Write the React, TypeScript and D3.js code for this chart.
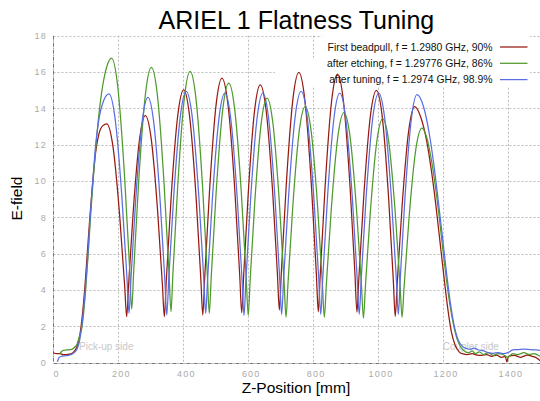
import React, { useEffect, useRef } from 'react';
import * as d3 from 'd3';

// measured bead-pull curves, [z in mm, E-field]
const firstBeadpull: [number, number][] = [
  [0, 0.55], [10, 0.5], [20, 0.5], [30, 0.44], [40, 0.45], [50, 0.47], [60, 0.55], [70, 0.8], [78, 1.2], [85, 2], [96, 4], [104, 6], [112, 8], [121, 10], [130, 11.6], [140, 12.6], [152, 13.05], [164, 13.15],
  [182.5, 11.99], [204, 8.07], [219.4, 4.19], [225.5, 2.53],
  [231.3, 4.26], [245.6, 8.31], [265.8, 12.39], [283, 13.6],
  [300.6, 12.39], [321, 8.31], [335.7, 4.26], [341.5, 2.53],
  [347.5, 4.48], [362.3, 9.05], [383.2, 13.66], [401, 15.02],
  [418.7, 13.67], [439.4, 9.1], [454.1, 4.56], [460, 2.63],
  [465.9, 4.66], [480.7, 9.44], [501.3, 14.25], [519, 15.67],
  [537.3, 14.26], [558.7, 9.49], [573.9, 4.77], [580, 2.75],
  [585.7, 4.71], [600, 9.3], [619.9, 13.93], [637, 15.3],
  [654.7, 13.95], [675.4, 9.37], [690.1, 4.83], [696, 2.9],
  [702, 4.94], [717, 9.73], [738, 14.55], [756, 15.98],
  [774, 14.54], [795, 9.68], [810, 4.86], [816, 2.8],
  [821.9, 4.84], [836.7, 9.63], [857.3, 14.46], [875, 15.89],
  [893, 14.46], [914, 9.62], [929, 4.83], [935, 2.78],
  [941, 4.68], [956, 9.15], [977, 13.66], [995, 14.99],
  [1012.4, 13.63], [1032.7, 9.04], [1047.2, 4.49], [1053, 2.55],
  [1059, 4.35], [1074, 8.58], [1095, 12.84], [1113, 14.1],
  [1132, 13.5], [1150, 12.2], [1165, 10.5], [1178, 8.7], [1190, 6.8], [1202, 4.9], [1214, 3.1], [1226, 1.7], [1238, 0.95], [1250, 0.6], [1262, 0.48],
  [1275, 0.45], [1290, 0.5], [1305, 0.42], [1320, 0.4], [1335, 0.45], [1350, 0.35], [1365, 0.42], [1380, 0.3], [1392, 0.35], [1397, 0.05], [1402, 0.35], [1420, 0.4], [1440, 0.3], [1460, 0.42], [1475, 0.35], [1490, 0.25], [1500, 0.1],
];

const afterEtching: [number, number][] = [
  [20, 0.5], [25, 0.62], [30, 0.68], [40, 0.7], [50, 0.72], [58, 0.75], [65, 0.85], [72, 1.0], [79, 1.4], [88, 2], [99, 4], [107, 6], [114, 8], [122, 10], [131, 12], [142, 14], [155, 15.6], [166, 16.4], [179, 16.77],
  [197.6, 15.26], [219.3, 10.16], [234.8, 5.11], [241, 2.95],
  [247.1, 5.02], [262.2, 9.89], [283.4, 14.8], [301.5, 16.25],
  [319.7, 14.79], [340.8, 9.83], [356, 4.91], [362, 2.81],
  [367.9, 4.87], [382.7, 9.71], [403.3, 14.59], [421, 16.03],
  [438.7, 14.58], [459.4, 9.67], [474.1, 4.8], [480, 2.72],
  [486, 4.7], [501, 9.33], [522, 14.01], [540, 15.39],
  [558, 14.0], [579, 9.29], [594, 4.61], [600, 2.62],
  [605.8, 4.48], [620.3, 8.86], [640.6, 13.27], [658, 14.57],
  [675.6, 13.25], [696, 8.8], [710.7, 4.38], [716.5, 2.5],
  [722.4, 4.31], [737.2, 8.56], [757.8, 12.84], [775.5, 14.1],
  [793.2, 12.84], [813.9, 8.56], [828.6, 4.31], [834.5, 2.5],
  [840.6, 4.26], [855.7, 8.38], [876.9, 12.54], [895, 13.77],
  [913, 12.54], [934, 8.36], [949, 4.22], [955, 2.45],
  [961, 4.16], [975.8, 8.18], [996.7, 12.23], [1014.5, 13.43],
  [1032.4, 12.24], [1053.2, 8.21], [1068.1, 4.21], [1074, 2.5],
  [1080.1, 4.12], [1095.4, 7.93], [1116.7, 11.78], [1135, 12.91],
  [1150, 12.4], [1163, 11.3], [1176, 9.8], [1188, 8.1], [1200, 6.2], [1212, 4.4], [1224, 2.9], [1236, 1.8], [1249, 1.05], [1262, 0.7], [1280, 0.55],
  [1290, 0.65], [1300, 0.5], [1312, 0.6], [1325, 0.45], [1340, 0.55], [1355, 0.4], [1370, 0.5], [1385, 0.45], [1400, 0.3], [1415, 0.5], [1430, 0.45], [1450, 0.55], [1465, 0.45], [1480, 0.5], [1500, 0.35],
];

const afterTuning: [number, number][] = [
  [12, 0.05], [18, 0.3], [25, 0.35], [35, 0.38], [45, 0.4], [55, 0.45], [63, 0.55], [71, 0.7], [79, 1.1], [87, 2], [98, 4], [106, 6], [113, 8], [121, 10], [130, 12], [140, 13.4], [155, 14.45], [171, 14.8],
  [189.5, 13.48], [211.1, 9.03], [226.5, 4.6], [232.7, 2.72],
  [238.5, 4.57], [253.1, 8.92], [273.5, 13.31], [291, 14.6],
  [308.4, 13.3], [328.7, 8.88], [343.2, 4.5], [349, 2.63],
  [355, 4.55], [370, 9.05], [391, 13.59], [409, 14.93],
  [427, 13.6], [448, 9.09], [463, 4.62], [469, 2.72],
  [474.9, 4.61], [489.7, 9.05], [510.3, 13.52], [528, 14.84],
  [545.7, 13.51], [566.4, 8.99], [581.1, 4.51], [587, 2.6],
  [592.8, 4.51], [607.3, 8.99], [627.6, 13.51], [645, 14.84],
  [662.4, 13.51], [682.7, 9.01], [697.2, 4.55], [703, 2.65],
  [709, 4.57], [724, 9.06], [745, 13.59], [763, 14.93],
  [781.2, 13.59], [802.3, 9.06], [817.5, 4.57], [823.5, 2.66],
  [829.4, 4.56], [844, 9.02], [864.5, 13.51], [882, 14.84],
  [900, 13.51], [921, 9.02], [936, 4.56], [942, 2.66],
  [948, 4.56], [963, 9.02], [984, 13.51], [1002, 14.84],
  [1020.2, 13.51], [1041.3, 9.02], [1056.5, 4.56], [1062.5, 2.66],
  [1068.3, 4.55], [1082.6, 8.97], [1102.8, 13.43], [1120, 14.75],
  [1140, 14.1], [1157, 12.7], [1172, 10.9], [1185, 9.0], [1198, 7.0], [1210, 5.1], [1222, 3.4], [1234, 2.1], [1247, 1.25], [1260, 0.9], [1272, 0.78], [1283, 0.74],
  [1295, 0.8], [1310, 0.7], [1325, 0.65], [1340, 0.55], [1355, 0.52], [1370, 0.55], [1385, 0.5], [1400, 0.55], [1415, 0.7], [1430, 0.72], [1450, 0.75], [1470, 0.72], [1485, 0.7], [1500, 0.68],
];

const seriesLabels = [
  'First beadpull, f = 1.2980 GHz, 90%',
  'after etching, f = 1.29776 GHz, 86%',
  'after tuning, f = 1.2974 GHz, 98.9%',
];
const seriesColors = ['#961a10', '#4f9a2c', '#5a6ee2'];

const xTicks = [0, 200, 400, 600, 800, 1000, 1200, 1400];
const yTicks = [0, 2, 4, 6, 8, 10, 12, 14, 16, 18];

const W = 540;
const H = 401;
const FONT = '"Liberation Sans", Arial, Helvetica, sans-serif';

export default function App() {
  const ref = useRef<SVGSVGElement>(null);

  useEffect(() => {
    const svg = d3.select(ref.current);
    svg.selectAll('*').remove();

    const x = d3.scaleLinear().domain([0, 1500]).range([53.5, 540.3]);
    const y = d3.scaleLinear().domain([0, 18]).range([362.7, 35.7]);

    svg.append('rect').attr('width', W).attr('height', H).attr('fill', '#fff');

    // grid
    const grid = svg.append('g').attr('stroke', '#bbb').attr('stroke-width', 1).attr('stroke-dasharray', '2,2');
    grid.selectAll('.hg').data(yTicks.filter(d => d > 0)).enter().append('line')
      .attr('x1', x(0)).attr('x2', W)
      .attr('y1', d => Math.round(y(d)) + 0.5).attr('y2', d => Math.round(y(d)) + 0.5);
    grid.selectAll('.vg').data(xTicks.filter(d => d > 0)).enter().append('line')
      .attr('x1', d => Math.round(x(d)) + 0.5).attr('x2', d => Math.round(x(d)) + 0.5)
      .attr('y1', y(18)).attr('y2', y(0));

    // legend background hides the grid
    svg.append('rect').attr('x', 322).attr('y', 33).attr('width', 208).attr('height', 54).attr('fill', '#fff');
    svg.append('rect').attr('x', 275).attr('y', 60).attr('width', 255).attr('height', 27).attr('fill', '#fff');

    // axes
    const axes = svg.append('g').attr('stroke', '#777').attr('stroke-width', 1).attr('stroke-dasharray', '4,1,1,1');
    axes.append('line').attr('x1', 53.5).attr('x2', 53.5).attr('y1', y(18)).attr('y2', y(0));
    axes.append('line').attr('x1', 53.5).attr('x2', W).attr('y1', Math.round(y(0)) + 0.5).attr('y2', Math.round(y(0)) + 0.5);

    const tickText = { fill: '#aaa', size: 9 };
    svg.append('g').selectAll('text').data(yTicks).enter().append('text')
      .attr('x', 47).attr('y', d => y(d) + 3.2)
      .attr('text-anchor', 'end')
      .attr('font-family', FONT).attr('font-size', tickText.size)
      .attr('letter-spacing', 1.2)
      .attr('fill', tickText.fill)
      .text(d => d);
    svg.append('g').selectAll('text').data(xTicks).enter().append('text')
      .attr('x', d => x(d) + 3).attr('y', 376.5)
      .attr('text-anchor', 'middle')
      .attr('font-family', FONT).attr('font-size', tickText.size)
      .attr('letter-spacing', 1.2)
      .attr('fill', tickText.fill)
      .text(d => d);

    // side notes
    svg.append('text').attr('x', 79).attr('y', 350.3).attr('font-family', FONT).attr('font-size', 10)
      .attr('fill', '#c8c8c8').text('Pick-up side');
    svg.append('text').attr('x', 442.7).attr('y', 350.3).attr('font-family', FONT).attr('font-size', 10)
      .attr('fill', '#c8c8c8').text('Coupler side');

    // curves
    const line = d3.line<[number, number]>()
      .x(d => x(d[0]))
      .y(d => y(d[1]))
      .curve(d3.curveMonotoneX);

    const allSeries = [firstBeadpull, afterEtching, afterTuning];
    svg.append('g').selectAll('path').data(allSeries).enter().append('path')
      .attr('fill', 'none')
      .attr('stroke', (d, i) => seriesColors[i])
      .attr('stroke-width', 1.25)
      .attr('stroke-linejoin', 'round')
      .attr('d', d => line(d));

    // legend
    const legend = svg.append('g').selectAll('g').data(seriesLabels).enter().append('g')
      .attr('transform', (d, i) => 'translate(0,' + (47 + i * 16.3) + ')');
    legend.append('text')
      .attr('x', 492.5).attr('y', 3.6)
      .attr('text-anchor', 'end')
      .attr('font-family', FONT).attr('font-size', 10.4)
      .attr('fill', '#111')
      .text(d => d);
    legend.append('line')
      .attr('x1', 500).attr('x2', 527.5).attr('y1', 0).attr('y2', 0)
      .attr('stroke', (d, i) => seriesColors[i])
      .attr('stroke-width', 1.25);

    // titles
    svg.append('text').attr('x', 296.4).attr('y', 29.3).attr('text-anchor', 'middle')
      .attr('font-family', FONT).attr('font-size', 25).attr('fill', '#000')
      .text('ARIEL 1 Flatness Tuning');
    svg.append('text').attr('x', 296).attr('y', 393.3).attr('text-anchor', 'middle')
      .attr('font-family', FONT).attr('font-size', 15.5).attr('fill', '#000')
      .text('Z-Position [mm]');
    svg.append('text').attr('transform', 'translate(22,198.5) rotate(-90)').attr('text-anchor', 'middle')
      .attr('font-family', FONT).attr('font-size', 15.5).attr('fill', '#000')
      .text('E-field');
  }, []);

  return (
    <svg ref={ref} width={W} height={H}
      style={{ position: 'absolute', left: 0, top: 0, display: 'block' }} />
  );
}
